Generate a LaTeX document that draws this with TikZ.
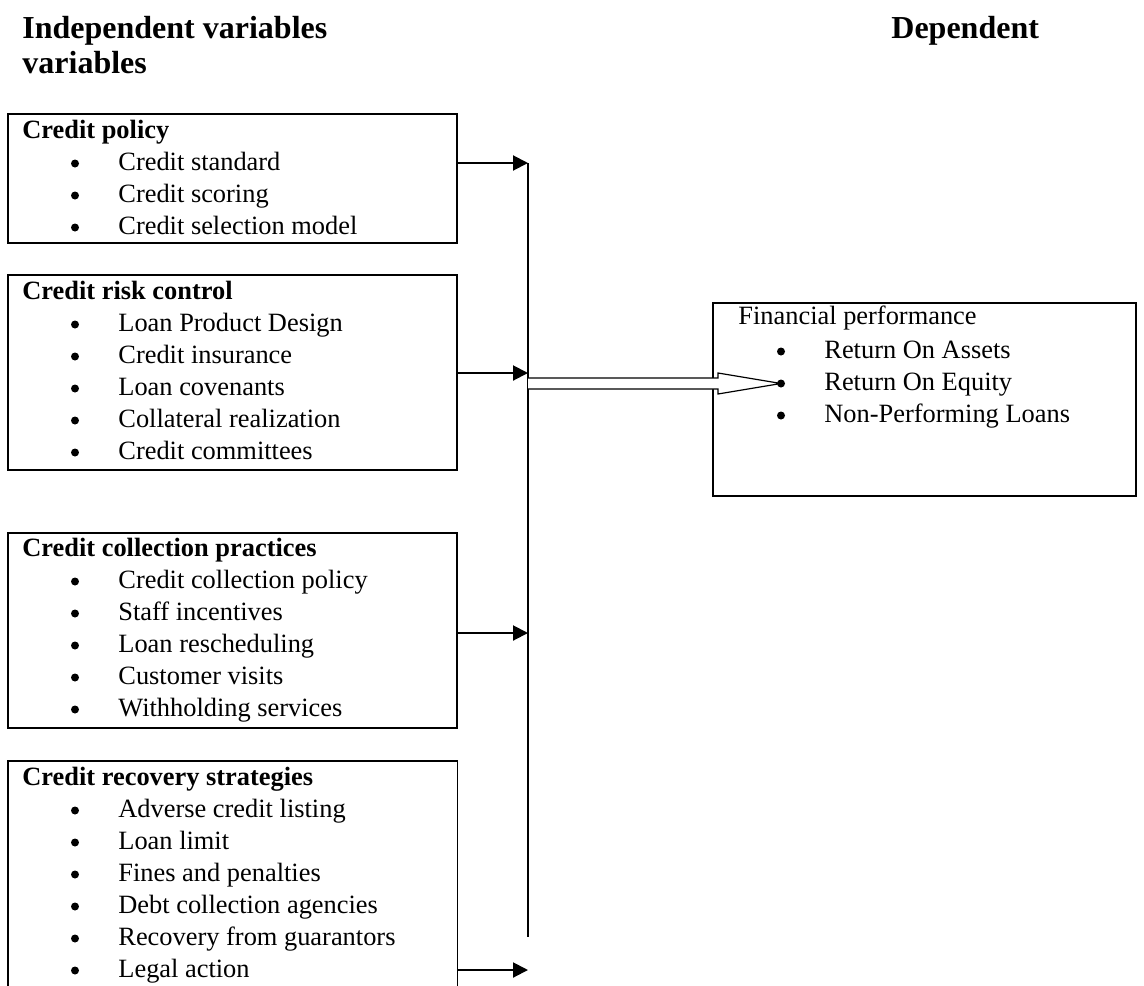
\documentclass[tikz,border=0pt]{standalone}
\usepackage{fontspec}
\setmainfont{Liberation Serif}
\usetikzlibrary{arrows.meta,calc}
\begin{document}
\begin{tikzpicture}[x=0.5pt,y=-0.5pt,
  box/.style={draw, line width=0.9pt, inner sep=0pt},
  hidebox/.style={draw=none, inner sep=0pt},
  head/.style={font=\fontsize{16}{19}\selectfont\bfseries, anchor=base west, inner sep=0pt},
  btitle/.style={font=\fontsize{13.2}{16}\selectfont\bfseries, anchor=base west, inner sep=0pt},
  ftitle/.style={font=\fontsize{13.2}{16}\selectfont, anchor=base west, inner sep=0pt},
  item/.style={font=\fontsize{13.2}{16}\selectfont, anchor=base west, inner sep=0pt},
  dot/.style={circle, fill=black, draw=none, inner sep=0pt, minimum size=4pt},
  conn/.style={line width=1pt, -{Triangle[length=7.5pt,width=7.5pt]}},
  spine/.style={line width=0.6pt},
  hollow/.style={line width=0.6pt, fill=white, line join=miter}]
\useasboundingbox (0,0) rectangle (1144,985);

% headings
\node[head] (h1) at (22,38) {Independent variables};
\node[head] (h2) at (22,73) {variables};
\node[head] (h3) at (891,38) {Dependent};

% boxes
\node[box, minimum width=224.5pt, minimum height=64.5pt] (b1) at (232.5,178.5) {};
\node[box, minimum width=224.5pt, minimum height=97.5pt] (b2) at (232.5,372.5) {};
\node[box, minimum width=224.5pt, minimum height=97.5pt] (b3) at (232.5,630.5) {};
\node[hidebox, minimum width=224.5pt, minimum height=114.5pt] (b4) at (232.5,875.5) {};
\draw[line width=0.9pt] (b4.south west) -- (b4.north west) -- (b4.north east) -- (b4.south east);
\node[box, minimum width=211.5pt, minimum height=96.5pt] (fp) at (924.5,399.5) {};

% box 1
\node[btitle] (t1) at (22,138) {Credit policy};
\foreach \t [count=\i] in {Credit standard, Credit scoring, Credit selection model}{
  \node[dot] (d1\i) at (75,131.5+32*\i) {};
  \node[item] (i1\i) at (118,138+32*\i) {\t};
}
% box 2
\node[btitle] (t2) at (22,299) {Credit risk control};
\foreach \t [count=\i] in {Loan Product Design, Credit insurance, Loan covenants, Collateral realization, Credit committees}{
  \node[dot] (d2\i) at (75,292.5+32*\i) {};
  \node[item] (i2\i) at (118,299+32*\i) {\t};
}
% box 3
\node[btitle] (t3) at (22,556) {Credit collection practices};
\foreach \t [count=\i] in {Credit collection policy, Staff incentives, Loan rescheduling, Customer visits, Withholding services}{
  \node[dot] (d3\i) at (75,549.5+32*\i) {};
  \node[item] (i3\i) at (118,556+32*\i) {\t};
}
% box 4
\node[btitle] (t4) at (22,785) {Credit recovery strategies};
\foreach \t [count=\i] in {Adverse credit listing, Loan limit, Fines and penalties, Debt collection agencies, Recovery from guarantors, Legal action}{
  \node[dot] (d4\i) at (75,778.5+32*\i) {};
  \node[item] (i4\i) at (118,785+32*\i) {\t};
}
% financial performance
\node[ftitle] (tf) at (738,324) {Financial performance};
\foreach \t [count=\i] in {Return On Assets, Return On Equity, Non-Performing Loans}{
  \node[dot] (df\i) at (781,319.5+32*\i) {};
  \node[item] (if\i) at (824,326+32*\i) {\t};
}

% spine and connectors
\coordinate (j1) at (528,163);
\coordinate (j2) at (528,373);
\coordinate (j3) at (528,633);
\coordinate (j4) at (528,970);
\coordinate (jb) at (528,937);
\coordinate (dA) at (528,383.5);
\coordinate (tip) at (df2.center);

\draw[spine] (j1) -- (jb);
\draw[conn] (b1.east |- j1) -- (j1);
\draw[conn] (b2.east |- j2) -- (j2);
\draw[conn] (b3.east |- j3) -- (j3);
\draw[conn] (b4.east |- j4) -- (j4);

\draw[hollow] ($(dA)+(0,-5.5)$) -- ($(tip |- dA)+(-63,-5.5)$) -- ($(tip |- dA)+(-63,-10.5)$)
  -- (tip |- dA) -- ($(tip |- dA)+(-63,10.5)$) -- ($(tip |- dA)+(-63,5.5)$) -- ($(dA)+(0,5.5)$);
\end{tikzpicture}
\end{document}
